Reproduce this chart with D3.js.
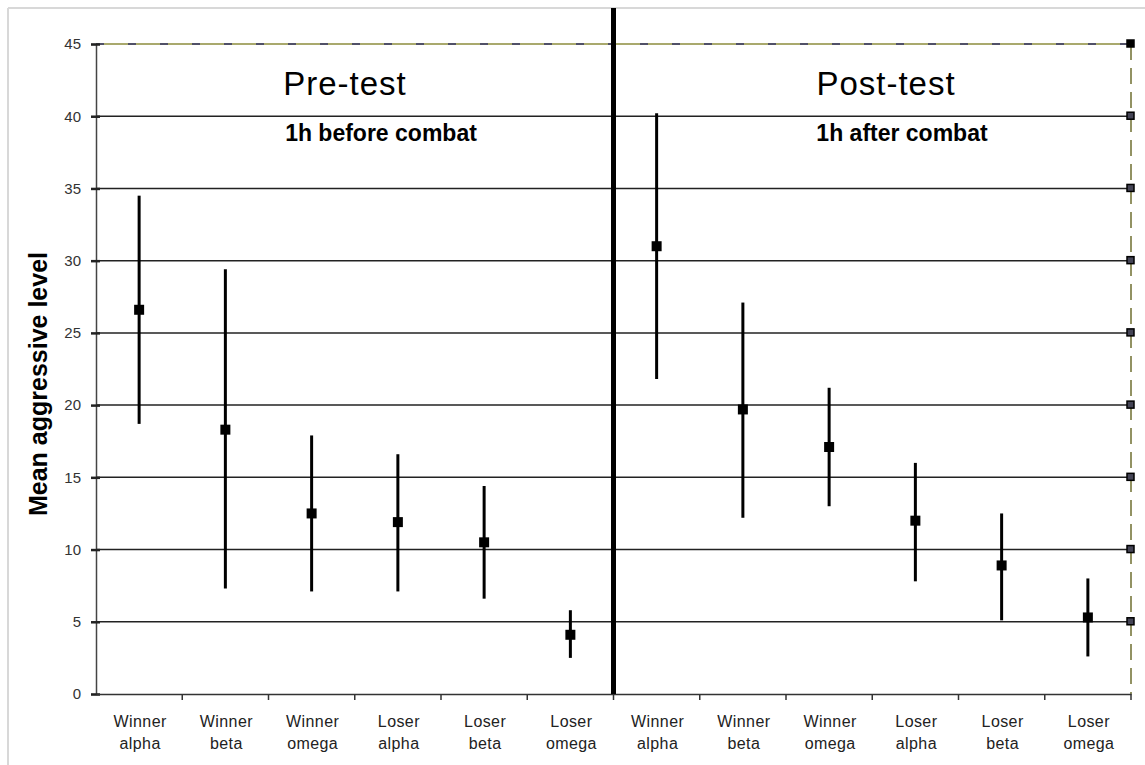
<!DOCTYPE html>
<html lang="en">
<head>
<meta charset="utf-8">
<title>Mean aggressive level</title>
<script src="https://cdn.jsdelivr.net/npm/d3@7/dist/d3.min.js"></script>
<style>
  body { margin: 0; background: #fff; }
  svg { display: block; font-family: Arial, "Liberation Sans", sans-serif; }
</style>
</head>
<body>
<svg width="1145" height="765"></svg>
<script>

// categories, repeated for each phase
const groups = ["Winner alpha", "Winner beta", "Winner omega", "Loser alpha", "Loser beta", "Loser omega"];
const phases = ["Pre-test", "Post-test"];
const phaseNotes = ["1h before combat", "1h after combat"];

// means and error bar ends
const preMean = [26.6, 18.3, 12.5, 11.9, 10.5, 4.1];
const preLow  = [18.7, 7.3, 7.1, 7.1, 6.6, 2.5];
const preHigh = [34.5, 29.4, 17.9, 16.6, 14.4, 5.8];
const postMean = [31.0, 19.7, 17.1, 12.0, 8.9, 5.3];
const postLow  = [21.8, 12.2, 13.0, 7.8, 5.1, 2.6];
const postHigh = [40.2, 27.1, 21.2, 16.0, 12.5, 8.0];

const yTicks = [0, 5, 10, 15, 20, 25, 30, 35, 40, 45];

const svg = d3.select("svg");
const plotLeft = 96, plotRight = 1131, plotTop = 44, plotBottom = 694;

// build rows
var rows = [];
phases.forEach(function(p, pi) {
  var m = pi === 0 ? preMean : postMean,
      lo = pi === 0 ? preLow : postLow,
      hi = pi === 0 ? preHigh : postHigh;
  groups.forEach(function(g, gi) {
    rows.push({key: p + "|" + g, label: g, mean: m[gi], low: lo[gi], high: hi[gi]});
  });
});

const x = d3.scaleBand().domain(rows.map(function(d) { return d.key; })).range([plotLeft, plotRight]);
const y = d3.scaleLinear().domain([0, 45]).range([plotBottom, plotTop]);

// outer frame (light gray, top and left only)
svg.append("line").attr("x1", 8).attr("x2", 1145).attr("y1", 8).attr("y2", 8)
  .attr("stroke", "#d8d8d8").attr("stroke-width", 2);
svg.append("line").attr("x1", 8).attr("x2", 8).attr("y1", 8).attr("y2", 765)
  .attr("stroke", "#d8d8d8").attr("stroke-width", 2);

// gridlines
svg.append("g").selectAll("line").data(yTicks.filter(function(t) { return t > 0 && t < 45; }))
  .enter().append("line")
  .attr("x1", plotLeft).attr("x2", plotRight)
  .attr("y1", function(d) { return y(d); }).attr("y2", function(d) { return y(d); })
  .attr("stroke", "#222").attr("stroke-width", 1.5);

// top border: olive with dark dashes
svg.append("line").attr("x1", plotLeft).attr("x2", plotRight).attr("y1", y(45)).attr("y2", y(45))
  .attr("stroke", "#8c8c3c").attr("stroke-width", 1.5);
svg.append("line").attr("x1", plotLeft).attr("x2", plotRight).attr("y1", y(45)).attr("y2", y(45))
  .attr("stroke", "#333366").attr("stroke-width", 1.5).attr("stroke-dasharray", "8,24");

// right border: olive dashed
svg.append("line").attr("x1", plotRight).attr("x2", plotRight).attr("y1", y(45)).attr("y2", plotBottom)
  .attr("stroke", "#6f6f30").attr("stroke-width", 1.5).attr("stroke-dasharray", "16,8");

// right side small squares at gridlines
svg.append("g").selectAll("rect").data(yTicks.filter(function(t) { return t > 0; }))
  .enter().append("rect")
  .attr("x", plotRight - 4).attr("y", function(d) { return y(d) - 4; })
  .attr("width", 7).attr("height", 7)
  .attr("fill", function(d) { return d === 45 ? "#000" : "#445"; })
  .attr("stroke", "#000").attr("stroke-width", 1.5);

// y axis
const yAxis = svg.append("g").attr("transform", "translate(" + plotLeft + ",0)")
  .call(d3.axisLeft(y).tickValues(yTicks).tickSize(5).tickPadding(10));
yAxis.select(".domain").attr("stroke", "#444").attr("stroke-width", 1.5);
yAxis.selectAll(".tick line").attr("x2", 4).attr("x1", -5).attr("stroke", "#222").attr("stroke-width", 2.5);
yAxis.selectAll(".tick text").attr("font-size", 15).attr("fill", "#333")
  .attr("font-family", "Arial, 'Liberation Sans', sans-serif");

// x axis
const xAxis = svg.append("g").attr("transform", "translate(0," + plotBottom + ")")
  .call(d3.axisBottom(x).tickSize(0).tickFormat(""));
xAxis.select(".domain").attr("stroke", "#333").attr("stroke-width", 1.5);

// category boundary ticks
svg.append("g").selectAll("line").data(rows)
  .enter().append("line")
  .attr("x1", function(d) { return x(d.key) + x.bandwidth(); })
  .attr("x2", function(d) { return x(d.key) + x.bandwidth(); })
  .attr("y1", plotBottom).attr("y2", plotBottom + 6)
  .attr("stroke", "#333").attr("stroke-width", 1.5);

// category labels, two lines
const lab = svg.append("g").selectAll("text").data(rows)
  .enter().append("text")
  .attr("text-anchor", "middle")
  .attr("font-size", 16).attr("letter-spacing", 0.4).attr("fill", "#222")
  .attr("transform", function(d) { return "translate(" + (x(d.key) + x.bandwidth() / 2 + 1) + "," + (plotBottom + 33) + ")"; });
lab.append("tspan").attr("x", 0).attr("dy", 0).text(function(d) { return d.label.split(" ")[0]; });
lab.append("tspan").attr("x", 0).attr("dy", 22).text(function(d) { return d.label.split(" ")[1]; });

// divider between phases
const splitX = x(phases[1] + "|" + groups[0]);
svg.append("line").attr("x1", splitX).attr("x2", splitX).attr("y1", 8).attr("y2", plotBottom)
  .attr("stroke", "#000").attr("stroke-width", 5);

// error bars
svg.append("g").selectAll("line").data(rows)
  .enter().append("line")
  .attr("x1", function(d) { return x(d.key) + x.bandwidth() / 2; })
  .attr("x2", function(d) { return x(d.key) + x.bandwidth() / 2; })
  .attr("y1", function(d) { return y(d.low); })
  .attr("y2", function(d) { return y(d.high); })
  .attr("stroke", "#000").attr("stroke-width", 3);

// mean markers
svg.append("g").selectAll("rect").data(rows)
  .enter().append("rect")
  .attr("x", function(d) { return x(d.key) + x.bandwidth() / 2 - 5; })
  .attr("y", function(d) { return y(d.mean) - 5; })
  .attr("width", 10).attr("height", 10)
  .attr("fill", "#000");

// phase titles
phases.forEach(function(p, pi) {
  svg.append("text").attr("x", pi === 0 ? 345 : 886).attr("y", 95).attr("text-anchor", "middle")
    .attr("font-size", 33).attr("letter-spacing", 1).attr("fill", "#000").text(p);
  svg.append("text").attr("x", pi === 0 ? 381 : 902).attr("y", 141).attr("text-anchor", "middle")
    .attr("font-size", 23).attr("font-weight", "bold").attr("fill", "#000").text(phaseNotes[pi]);
});

// y axis title
svg.append("text")
  .attr("transform", "translate(47,384) rotate(-90)")
  .attr("text-anchor", "middle")
  .attr("font-size", 25).attr("font-weight", "bold").attr("fill", "#000")
  .text("Mean aggressive level");

</script>
</body>
</html>
